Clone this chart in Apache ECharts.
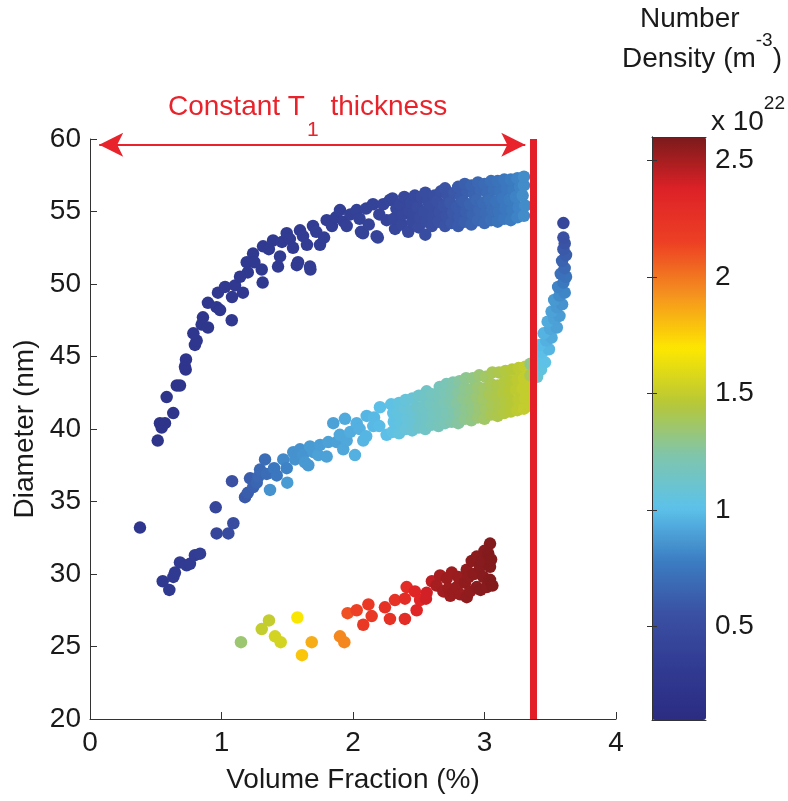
<!DOCTYPE html>
<html><head><meta charset="utf-8">
<script src="https://cdn.jsdelivr.net/npm/echarts@6/dist/echarts.min.js"></script>
<style>html,body{margin:0;padding:0;background:#fff}#c{width:788px;height:801px}</style>
</head><body><div id="c"></div>
<script>
// ---------- data: [volume fraction %, diameter nm, number density x1e22 m^-3] ----------
const xTickValues = [0, 1, 2, 3, 4];
const yTickValues = [20, 25, 30, 35, 40, 45, 50, 55, 60];
const colorbarTicks = [0.5, 1, 1.5, 2, 2.5];
const densityMin = 0.1;
const densityMax = 2.6;
const thicknessLimitX = 3.37;
const arrowFromX = 0.07;
const arrowToX = 3.31;
const arrowY = 59.6;

const upperBranch = [
 [0.515,39.2,0.22],[0.532,40.4,0.22],[0.545,40.1,0.22],[0.570,40.4,0.22],[0.583,42.2,0.22],[0.633,41.1,0.23],[0.660,43.0,0.23],[0.684,43.0,0.23],[0.728,44.1,0.24],[0.722,44.3,0.24],[0.730,44.8,0.24],[0.798,45.8,0.25],[0.811,46.1,0.25],[0.786,46.6,0.25],[0.849,47.2,0.26],[0.897,47.0,0.26],[0.859,47.7,0.26],[0.897,48.7,0.27],[0.963,48.4,0.27],[0.989,48.2,0.27],[1.078,47.5,0.28],[0.973,49.4,0.28],[1.027,49.8,0.28],[1.080,49.1,0.28],[1.103,49.9,0.29],[1.163,49.4,0.29],[1.141,50.5,0.29],[1.200,50.8,0.30],[1.192,51.5,0.30],[1.240,52.1,0.30],[1.250,51.5,0.30],[1.306,51.0,0.30],[1.313,50.1,0.30],[1.316,52.6,0.31],[1.360,52.4,0.31],[1.392,53.0,0.31],[1.430,51.2,0.31],[1.445,51.9,0.32],[1.460,52.9,0.32],[1.496,53.5,0.32],[1.520,53.1,0.33],[1.544,52.5,0.33],[1.573,51.3,0.33],[1.582,51.5,0.33],[1.597,53.7,0.33],[1.620,53.3,0.34],[1.650,52.7,0.34],[1.673,51.2,0.34],[1.676,51.0,0.34],[1.696,54.0,0.34],[1.720,53.6,0.35],[1.749,52.7,0.35],[1.780,53.2,0.35],[1.800,54.4,0.36],[1.840,54.0,0.36],[1.870,54.6,0.36],[1.901,55.1,0.37],[1.930,54.3,0.37],[1.952,54.0,0.38],[1.980,54.8,0.38],[2.028,55.1,0.39],[2.050,54.5,0.39],[2.061,53.6,0.40],[2.076,53.5,0.40],[2.100,55.2,0.40],[2.120,54.1,0.40],[2.152,55.5,0.41],[2.180,53.3,0.42],[2.189,53.2,0.42],[2.200,54.8,0.42],[2.230,55.5,0.43],[2.256,54.4,0.43],[2.281,55.8,0.44],
 [2.32,53.8,0.45],[2.31,54.5,0.45],[2.33,55.2,0.45],[2.30,55.9,0.44],
 [2.37,54.1,0.46],[2.38,54.8,0.46],[2.36,55.5,0.46],[2.39,56.0,0.46],
 [2.42,53.6,0.47],[2.43,55.0,0.47],
 [2.45,54.3,0.48],[2.46,54.9,0.48],[2.44,55.6,0.48],[2.47,56.1,0.48],
 [2.50,53.9,0.50],[2.51,54.6,0.50],[2.49,55.3,0.50],[2.52,56.0,0.50],
 [2.55,53.4,0.52],[2.56,54.3,0.52],[2.54,55.0,0.52],[2.57,55.7,0.52],[2.55,56.3,0.52],
 [2.60,54.0,0.53],[2.61,54.7,0.53],[2.59,55.4,0.53],[2.62,56.1,0.53],
 [2.65,54.3,0.55],[2.66,55.0,0.55],[2.64,55.7,0.55],[2.67,56.4,0.55],
 [2.70,54.0,0.57],[2.71,54.7,0.57],[2.69,55.4,0.57],[2.72,56.1,0.57],[2.70,56.6,0.57],
 [2.75,54.2,0.59],[2.76,54.9,0.59],[2.74,55.6,0.59],[2.77,56.3,0.59],
 [2.80,54.0,0.61],[2.81,54.6,0.61],[2.79,55.3,0.61],[2.82,56.0,0.61],[2.80,56.7,0.61],
 [2.85,54.3,0.63],[2.86,55.0,0.63],[2.84,55.7,0.63],[2.87,56.4,0.63],[2.85,56.9,0.63],
 [2.90,54.1,0.65],[2.91,54.8,0.65],[2.89,55.5,0.65],[2.92,56.2,0.65],[2.90,56.8,0.65],
 [2.95,54.4,0.67],[2.96,55.1,0.67],[2.94,55.8,0.67],[2.97,56.5,0.67],[2.95,57.0,0.67],
 [3.00,54.2,0.69],[3.01,54.9,0.69],[2.99,55.6,0.69],[3.02,56.3,0.69],[3.00,56.9,0.69],
 [3.05,54.4,0.71],[3.06,55.1,0.71],[3.04,55.8,0.71],[3.07,56.5,0.71],[3.05,57.1,0.71],
 [3.10,54.3,0.73],[3.11,55.0,0.73],[3.09,55.7,0.73],[3.12,56.4,0.73],[3.10,57.1,0.73],
 [3.15,54.5,0.75],[3.16,55.2,0.75],[3.14,55.9,0.75],[3.17,56.6,0.75],[3.15,57.2,0.75],
 [3.20,54.4,0.77],[3.21,55.1,0.77],[3.19,55.8,0.77],[3.22,56.5,0.77],[3.20,57.2,0.77],
 [3.25,54.6,0.80],[3.26,55.3,0.80],[3.24,56.0,0.80],[3.27,56.7,0.80],[3.25,57.3,0.80],
 [3.30,54.7,0.83],[3.31,55.4,0.83],[3.29,56.1,0.83],[3.30,56.8,0.83],[3.30,57.4,0.83]
];

const middleBranch = [
 [0.553,29.5,0.30],[0.603,28.9,0.30],[0.634,29.8,0.31],[0.646,30.1,0.31],[0.684,30.8,0.32],[0.735,30.6,0.33],[0.760,30.7,0.33],[0.798,31.3,0.34],[0.837,31.4,0.35],[0.963,32.8,0.45],[1.052,32.8,0.50],[0.956,34.6,0.45],[1.090,33.5,0.52],[1.080,36.4,0.55],[1.179,35.3,0.60],[1.200,35.6,0.62],[1.217,36.6,0.62],[1.242,36.0,0.64],[1.268,36.3,0.66],[1.280,36.7,0.67],[1.293,37.2,0.68],[1.331,37.9,0.70],[1.344,36.9,0.70],[1.369,35.8,0.85],[1.400,37.3,0.75],[1.420,36.8,0.75],[1.470,37.9,0.82],[1.496,37.3,0.80],[1.500,36.3,0.88],[1.546,38.4,0.85],[1.560,37.9,0.85],[1.597,38.6,0.85],[1.620,38.2,0.86],[1.635,37.7,0.87],[1.660,37.5,0.87],[1.673,38.8,0.88],[1.700,38.4,0.88],[1.736,38.2,0.90],[1.750,38.9,0.89],[1.800,38.1,0.90],[1.812,39.1,0.90],[1.850,40.4,0.90],[1.876,39.1,0.90],[1.900,39.6,0.92],[1.926,38.6,0.92],[1.939,40.7,0.93],[1.952,39.2,0.92],[1.980,39.8,0.94],[2.015,38.2,0.95],[2.028,40.4,0.95],[2.050,40.0,0.95],[2.078,39.2,0.97],[2.100,39.5,0.97],[2.104,40.9,0.97],[2.154,40.2,0.98],[2.160,40.8,0.98],[2.200,40.2,0.99],[2.205,41.5,1.00],[2.256,39.6,1.00],[2.306,41.1,1.02],
 [2.30,39.8,1.03],[2.31,40.5,1.03],[2.29,41.7,1.03],
 [2.35,39.7,1.05],[2.36,40.4,1.05],[2.34,41.1,1.05],[2.35,41.8,1.05],
 [2.40,40.0,1.07],[2.41,40.7,1.07],[2.39,41.4,1.07],[2.40,42.0,1.07],
 [2.45,39.9,1.09],[2.46,40.6,1.09],[2.44,41.3,1.09],[2.45,42.1,1.09],
 [2.50,40.1,1.12],[2.51,40.8,1.12],[2.49,41.5,1.12],[2.50,42.3,1.12],
 [2.55,40.0,1.14],[2.56,40.7,1.14],[2.54,41.4,1.14],[2.55,42.1,1.14],[2.56,42.6,1.14],
 [2.60,40.3,1.16],[2.61,41.0,1.16],[2.59,41.7,1.16],[2.60,42.4,1.16],
 [2.65,40.2,1.18],[2.66,40.9,1.18],[2.64,41.6,1.18],[2.65,42.3,1.18],[2.66,42.9,1.18],
 [2.70,40.4,1.20],[2.71,41.1,1.20],[2.69,41.8,1.20],[2.70,42.5,1.20],[2.71,43.1,1.20],
 [2.75,40.5,1.23],[2.76,41.2,1.23],[2.74,41.9,1.23],[2.75,42.6,1.23],[2.76,43.2,1.23],
 [2.80,40.4,1.26],[2.81,41.1,1.26],[2.79,41.8,1.26],[2.80,42.5,1.26],[2.81,43.3,1.26],
 [2.85,40.7,1.29],[2.86,41.4,1.29],[2.84,42.1,1.29],[2.85,42.8,1.29],[2.86,43.5,1.29],
 [2.90,40.6,1.31],[2.91,41.3,1.31],[2.89,42.0,1.31],[2.90,42.7,1.31],[2.91,43.5,1.31],
 [2.95,40.8,1.34],[2.96,41.5,1.34],[2.94,42.2,1.34],[2.95,42.9,1.34],[2.96,43.7,1.34],
 [3.00,40.7,1.37],[3.01,41.4,1.37],[2.99,42.1,1.37],[3.00,42.8,1.37],[3.01,43.6,1.37],
 [3.05,41.0,1.40],[3.06,41.7,1.40],[3.04,42.4,1.40],[3.05,43.1,1.40],[3.06,43.9,1.40],
 [3.10,40.9,1.42],[3.11,41.6,1.42],[3.09,42.3,1.42],[3.10,43.0,1.42],[3.11,43.9,1.42],
 [3.15,41.1,1.44],[3.16,41.8,1.44],[3.14,42.5,1.44],[3.15,43.2,1.44],[3.16,44.0,1.44],
 [3.20,41.2,1.46],[3.21,41.9,1.46],[3.19,42.6,1.46],[3.20,43.3,1.46],[3.21,44.1,1.46],
 [3.25,41.3,1.48],[3.26,42.0,1.48],[3.24,42.7,1.48],[3.25,43.4,1.48],[3.26,44.2,1.48],
 [3.30,41.4,1.50],[3.31,42.1,1.50],[3.29,42.8,1.50],[3.30,43.5,1.50],[3.31,44.3,1.50],
 [3.35,41.6,1.50],[3.35,42.3,1.50],[3.35,43.0,1.50],[3.35,43.7,1.40],[3.35,44.5,1.30]
];

const tailBranch = [
 [3.40,43.6,1.10],[3.39,44.3,1.08],[3.43,44.1,1.05],[3.46,44.6,1.02],[3.40,45.0,1.02],[3.44,45.3,1.00],[3.49,45.5,0.97],[3.42,45.8,0.99],[3.47,46.1,0.95],[3.51,46.3,0.93],[3.45,46.6,0.96],[3.50,46.9,0.92],[3.55,47.0,0.90],[3.48,47.4,0.93],[3.53,47.6,0.90],[3.57,47.8,0.88],[3.51,48.1,0.90],[3.55,48.4,0.87],[3.59,48.6,0.85],[3.53,48.9,0.87],[3.57,49.2,0.83],[3.61,49.4,0.81],[3.56,49.8,0.80],[3.60,50.1,0.76],[3.62,50.5,0.73],[3.58,50.7,0.72],[3.61,51.1,0.68],[3.59,51.6,0.65],[3.62,52.0,0.62],[3.60,52.4,0.60],[3.61,52.8,0.57],[3.60,53.2,0.55],[3.60,54.2,0.45]
];

const lowerBranch = [
 [1.148,25.3,1.35],[1.306,26.2,1.50],[1.361,26.8,1.50],[1.407,25.7,1.55],[1.450,25.3,1.55],[1.577,27.0,1.68],[1.612,24.4,1.78],[1.686,25.3,1.85],[1.901,25.7,1.95],[1.934,25.3,1.95],[1.959,27.3,2.10],[2.028,27.5,2.15],[2.078,26.5,2.20],[2.117,27.9,2.20],[2.142,27.1,2.20],[2.243,27.7,2.25],[2.281,26.9,2.25],[2.319,28.2,2.25],[2.395,26.9,2.30],[2.395,28.3,2.30],[2.408,29.1,2.30],[2.471,28.8,2.35],[2.484,27.5,2.35],[2.510,28.2,2.35],[2.555,28.3,2.40],[2.560,28.7,2.40],[2.600,29.5,2.45],
 [2.636,29.2,2.50],[2.662,29.9,2.50],[2.687,28.8,2.51],[2.713,29.7,2.52],[2.725,29.0,2.52],[2.740,28.5,2.52],[2.751,30.1,2.52],[2.763,28.7,2.53],[2.789,29.1,2.53],[2.800,29.8,2.53],[2.814,28.6,2.53],[2.852,29.4,2.55],[2.865,28.4,2.55],[2.865,30.3,2.55],[2.880,29.8,2.55],[2.890,28.8,2.55],[2.903,30.9,2.56],[2.920,30.0,2.56],[2.941,31.2,2.56],[2.941,29.1,2.56],[2.966,30.5,2.57],[2.970,28.9,2.57],[2.980,30.9,2.57],[2.991,29.8,2.57],[3.000,31.6,2.57],[3.017,29.1,2.57],[3.029,31.4,2.58],[3.042,30.5,2.58],[3.042,29.6,2.58],[3.050,31.0,2.58],[3.060,29.2,2.58],[3.042,32.1,2.58]
];

const outlierPoints = [
 [0.38,33.2,0.25]
];

const jetColors = ['#2b2c82','#313b92','#3a50a3','#3b7dc2','#5cc2ea','#80c5ab','#b8c835','#fde700','#f5941e','#ed4024','#de2227','#7a1a1b'];

// ---------- chart ----------
const FONT = 'Liberation Sans, Arial, Helvetica, sans-serif';
const TXT = '#1a1a1a';
const FS = 28;
const RED = '#e8232b';
const chart = echarts.init(document.getElementById('c'), null, {renderer: 'canvas'});

const scatterSeries = (name, data) => ({
  name, type: 'scatter', data, xAxisIndex: 0, yAxisIndex: 0,
  symbol: 'circle', symbolSize: 12.5, silent: true,
  itemStyle: {opacity: 1}
});

const option = {
  backgroundColor: '#ffffff',
  animation: false,
  grid: [
    {left: 90, top: 139, width: 526, height: 580, show: false, containLabel: false, outerBoundsMode: 'none'},
    {left: 652, top: 137, width: 54, height: 583, show: false, containLabel: false, outerBoundsMode: 'none'}
  ],
  xAxis: [
    {
      gridIndex: 0, type: 'value', min: xTickValues[0], max: xTickValues[xTickValues.length - 1], interval: 1,
      axisLine: {show: true, lineStyle: {color: '#333', width: 1}},
      axisTick: {show: true, inside: true, length: 7, lineStyle: {color: '#333'}},
      axisLabel: {fontSize: FS, color: TXT, fontFamily: FONT, margin: 10},
      splitLine: {show: false},
      name: 'Volume Fraction (%)', nameLocation: 'middle', nameGap: 47,
      nameTextStyle: {fontSize: FS, color: TXT, fontFamily: FONT}
    },
    {gridIndex: 1, type: 'value', min: 0, max: 1, position: 'bottom', z: 10,
      axisLine: {show: true, lineStyle: {color: '#333', width: 1}}, axisTick: {show: false}, axisLabel: {show: false}, splitLine: {show: false}},
    {gridIndex: 1, type: 'value', min: 0, max: 1, position: 'top', z: 10,
      axisLine: {show: true, lineStyle: {color: '#333', width: 1}}, axisTick: {show: false}, axisLabel: {show: false}, splitLine: {show: false}}
  ],
  yAxis: [
    {
      gridIndex: 0, type: 'value', min: yTickValues[0], max: yTickValues[yTickValues.length - 1], interval: 5,
      axisLine: {show: true, lineStyle: {color: '#333', width: 1}},
      axisTick: {show: true, inside: true, length: 7, lineStyle: {color: '#333'}},
      axisLabel: {fontSize: FS, color: TXT, fontFamily: FONT, margin: 9},
      splitLine: {show: false},
      name: 'Diameter (nm)', nameLocation: 'middle', nameGap: 48, nameRotate: 90,
      nameTextStyle: {fontSize: FS, color: TXT, fontFamily: FONT}
    },
    {
      gridIndex: 1, type: 'value', min: densityMin, max: densityMax, position: 'right', z: 10,
      axisLine: {show: true, lineStyle: {color: '#333', width: 1}},
      axisTick: {show: true, inside: true, length: 5, customValues: colorbarTicks, lineStyle: {color: '#333'}},
      axisLabel: {show: true, customValues: colorbarTicks, fontSize: FS, color: TXT, fontFamily: FONT, margin: 9},
      splitLine: {show: false}
    },
    {
      gridIndex: 1, type: 'value', min: densityMin, max: densityMax, position: 'left', z: 10,
      axisLine: {show: true, lineStyle: {color: '#333', width: 1}},
      axisTick: {show: true, inside: true, length: 5, customValues: colorbarTicks, lineStyle: {color: '#333'}},
      axisLabel: {show: false},
      splitLine: {show: false}
    }
  ],
  visualMap: {
    type: 'continuous', min: densityMin, max: densityMax, dimension: 2,
    seriesIndex: [0, 1, 2, 3, 4],
    orient: 'vertical', left: 652, top: 137, itemWidth: 54, itemHeight: 583,
    padding: 0, calculable: false, hoverLink: false, realtime: false,
    inRange: {color: jetColors}
  },
  graphic: [
    {type: 'text', left: 640, top: 5, style: {text: 'Number', fontSize: FS, fontFamily: FONT, fill: TXT}},
    {type: 'text', left: 622, top: 31, style: {
      text: '{a|Density (m}{s|-3}{a|)}', fill: TXT,
      rich: {
        a: {fontSize: FS, fontFamily: FONT, fill: TXT, lineHeight: 32, verticalAlign: 'bottom'},
        s: {fontSize: 19, fontFamily: FONT, fill: TXT, lineHeight: 42, verticalAlign: 'top'}
      }}},
    {type: 'text', right: 3, top: 94, style: {
      text: '{a|x 10}{s|22}', fill: TXT,
      rich: {
        a: {fontSize: FS, fontFamily: FONT, fill: TXT, lineHeight: 32, verticalAlign: 'bottom'},
        s: {fontSize: 19, fontFamily: FONT, fill: TXT, lineHeight: 42, verticalAlign: 'top'}
      }}},
    {type: 'text', left: 168, top: 93, style: {
      text: '{a|Constant T}{s|1}{a| thickness}', fill: RED,
      rich: {
        a: {fontSize: FS, fontFamily: FONT, fill: RED, lineHeight: 32, verticalAlign: 'top'},
        s: {fontSize: 21, fontFamily: FONT, fill: RED, lineHeight: 48, verticalAlign: 'bottom', padding: [0, 4, 0, 2]}
      }}}
  ],
  series: [
    scatterSeries('upper', upperBranch),
    scatterSeries('middle', middleBranch),
    scatterSeries('tail', tailBranch),
    scatterSeries('lower', lowerBranch),
    scatterSeries('outlier', outlierPoints),
    {
      name: 'annotations', type: 'line', data: [], xAxisIndex: 0, yAxisIndex: 0, z: 20, silent: true,
      markLine: {
        silent: true, animation: false,
        label: {show: false},
        emphasis: {disabled: true},
        data: [
          [
            {coord: [thicknessLimitX, yTickValues[0]], symbol: 'none', lineStyle: {color: '#e41e26', width: 7, type: 'solid'}},
            {coord: [thicknessLimitX, yTickValues[yTickValues.length - 1]], symbol: 'none'}
          ],
          [
            {coord: [arrowFromX, arrowY], symbol: 'arrow', symbolSize: [18, 24], lineStyle: {color: RED, width: 2, type: 'solid'}},
            {coord: [arrowToX, arrowY], symbol: 'arrow', symbolSize: [18, 24]}
          ]
        ]
      }
    }
  ]
};
chart.setOption(option);
</script>
</body></html>
